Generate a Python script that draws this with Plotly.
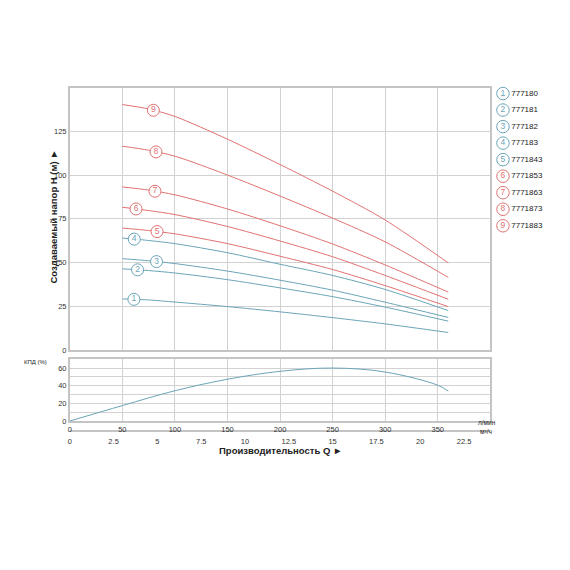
import numpy as np
import plotly.graph_objects as go

# подача, л/мин
q = [50, 75, 100, 150, 200, 250, 300, 360]

# напор H (м) для каждой модели
h1 = [29.2, 28.6, 27.4, 24.8, 21.8, 18.5, 14.9, 10.0]
h2 = [46.4, 45.4, 44.0, 40.2, 35.5, 30.5, 24.5, 16.5]
h3 = [52.2, 51.0, 49.4, 45.1, 39.9, 34.2, 27.3, 18.6]
h4 = [64.0, 62.6, 60.8, 55.6, 49.0, 42.6, 34.6, 22.5]
h5 = [69.7, 68.3, 66.4, 60.8, 53.6, 46.0, 36.8, 24.8]
h6 = [81.6, 79.7, 77.4, 70.6, 62.3, 53.3, 42.6, 29.0]
h7 = [93.2, 91.4, 88.7, 80.6, 71.0, 60.6, 48.6, 33.1]
h8 = [116.5, 114.2, 110.8, 100.0, 88.0, 75.4, 61.8, 41.5]
h9 = [140.3, 137.8, 133.5, 120.5, 106.0, 90.8, 74.3, 49.8]

curves = [h1, h2, h3, h4, h5, h6, h7, h8, h9]
models = ["777180", "777181", "777182", "777183", "7771843",
          "7771853", "7771863", "7771873", "7771883"]
numbers = ["1", "2", "3", "4", "5", "6", "7", "8", "9"]
label_q = [61, 64.5, 82.5, 61.3, 83, 63, 81, 82, 79.5]

# КПД (%)
q_eff = [0, 50, 100, 150, 200, 250, 300, 350, 360]
eff = [0, 17.5, 34.3, 47.3, 56.3, 60.0, 55.5, 40.6, 33.9]

q_ticks = [0, 50, 100, 150, 200, 250, 300, 350]
m3_ticks = [0, 2.5, 5, 7.5, 10, 12.5, 15, 17.5, 20, 22.5]

blue = "#6aa5b8"
red = "#e07272"
curve_colors = [blue] * 4 + [red] * 5
legend_colors = [blue] * 5 + [red] * 4

grid = "#d2d2d2"
border = "#c4c4c4"
font = "Liberation Sans"
tick_font = dict(family=font, size=7.5, color="#333")

W = 570
OFF = 8  # отступ body у страницы


def px(x):
    return (x - OFF) / W


def py(y):
    return 1 - (y - OFF) / W


fig = go.Figure()

for h, c in zip(curves, curve_colors):
    fig.add_trace(go.Scatter(x=q, y=h, mode="lines",
                             line=dict(color=c, width=1, shape="spline", smoothing=0.8),
                             xaxis="x", yaxis="y", hoverinfo="skip"))

# кружки с номерами на кривых
label_h = [float(np.interp(lq, q, h)) for lq, h in zip(label_q, curves)]
fig.add_trace(go.Scatter(x=label_q, y=label_h, mode="markers+text", text=numbers,
                         textposition="middle center",
                         textfont=dict(family=font, size=8.5, color=curve_colors),
                         marker=dict(size=12, color="white", line=dict(color=curve_colors, width=1)),
                         xaxis="x", yaxis="y", hoverinfo="skip"))

fig.add_trace(go.Scatter(x=q_eff, y=eff, mode="lines", line=dict(color=blue, width=1, shape="spline"),
                         xaxis="x2", yaxis="y2", hoverinfo="skip"))

# невидимая линия для оси м³/ч
fig.add_trace(go.Scatter(x=[0, 24], y=[0, 0], mode="lines", line=dict(width=0), opacity=0,
                         xaxis="x3", yaxis="y2", hoverinfo="skip"))

# легенда
rows = list(range(1, 10))
fig.add_trace(go.Scatter(x=[12.7] * 9, y=rows, mode="markers+text", text=numbers,
                         textposition="middle center",
                         textfont=dict(family=font, size=8.5, color=legend_colors),
                         marker=dict(size=12.5, color="white", line=dict(color=legend_colors, width=1)),
                         xaxis="x4", yaxis="y3", hoverinfo="skip"))
fig.add_trace(go.Scatter(x=[21] * 9, y=rows, mode="text", text=models, textposition="middle right",
                         textfont=dict(family=font, size=8, color="#222"),
                         xaxis="x4", yaxis="y3", hoverinfo="skip"))

xdom = [px(68), px(490)]
fig.update_layout(
    width=W, height=W,
    margin=dict(l=0, r=0, t=0, b=0),
    paper_bgcolor="white", plot_bgcolor="white",
    showlegend=False,
    xaxis=dict(domain=xdom, range=[0, 400], dtick=50, showticklabels=False, showgrid=True,
               gridcolor=grid, gridwidth=1, zeroline=False, showline=True, linecolor=border,
               linewidth=1.5, mirror=True, anchor="y", fixedrange=True),
    yaxis=dict(domain=[py(353), py(88.3)], range=[0, 150],
               tickvals=[0, 25, 50, 75, 100, 125], showgrid=True, gridcolor=grid, gridwidth=1,
               zeroline=False, showline=True, linecolor=border, linewidth=1.5, mirror=True,
               tickfont=tick_font, ticks="", anchor="x", fixedrange=True),
    xaxis2=dict(domain=xdom, range=[0, 400], tickvals=q_ticks, showgrid=True, gridcolor=grid,
                gridwidth=1, zeroline=False, showline=True, linecolor=border, linewidth=1.5,
                mirror=True, tickfont=tick_font, ticks="", anchor="y2", fixedrange=True),
    yaxis2=dict(domain=[py(424.7), py(362.3)], range=[0, 70], dtick=20,
                showgrid=True, gridcolor=grid, gridwidth=1,
                minor=dict(dtick=10, showgrid=True, gridcolor=grid, gridwidth=1),
                zeroline=False, showline=True, linecolor=border, linewidth=1.5, mirror=True,
                tickfont=tick_font, ticks="", anchor="x2", fixedrange=True),
    xaxis3=dict(domain=xdom, range=[0, 24], tickvals=m3_ticks, overlaying="x2", anchor="free",
                position=py(435), side="bottom", showgrid=False, zeroline=False,
                showline=True, linecolor=border, linewidth=1.5, tickfont=tick_font, ticks="",
                ticklabelstandoff=3, fixedrange=True),
    xaxis4=dict(domain=[px(490), px(570)], range=[0, 80], visible=False, anchor="y3", fixedrange=True),
    yaxis3=dict(domain=[py(236.04), py(85.96)], range=[9.5, 0.5],
                visible=False, anchor="x4", fixedrange=True),
)

ann = dict(xref="paper", yref="paper", showarrow=False, font=dict(family=font, color="#222"))
fig.add_annotation(ann, x=px(44), y=py(218), textangle=-90,
                   text="<b>Создаваемый напор H (м) ►</b>", font_size=9.5)
fig.add_annotation(ann, x=px(279), y=py(462),
                   text="<b>Производительность Q ►</b>", font_size=9.5)
fig.add_annotation(ann, x=px(46), y=py(365), xanchor="right", text="КПД (%)", font_size=6,
                   borderpad=0)
fig.add_annotation(ann, x=px(498), y=py(432), text="л/мин", font_size=6.5)
fig.add_annotation(ann, x=px(494), y=py(441), text="м³/ч", font_size=6.5)

fig.write_html("out.html")
